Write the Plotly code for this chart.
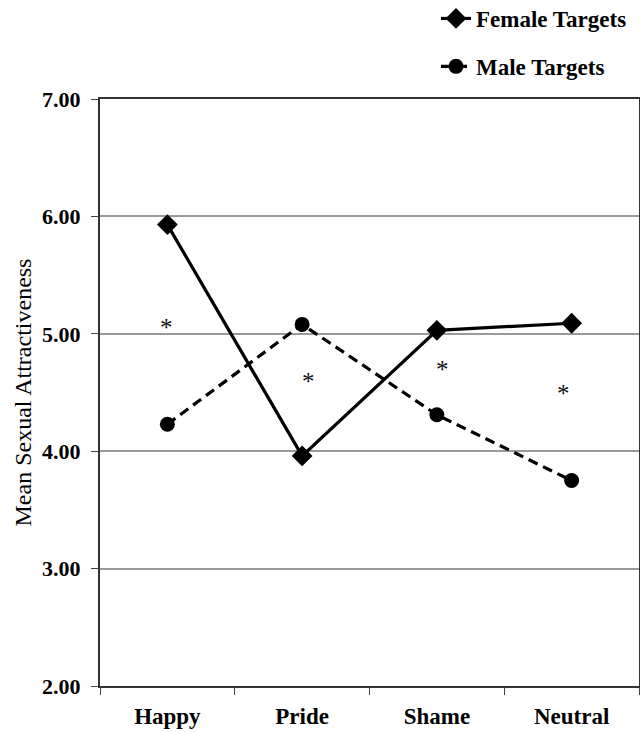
import plotly.graph_objects as go

categories = ["Happy", "Pride", "Shame", "Neutral"]
female_targets = [5.93, 3.96, 5.03, 5.09]
male_targets = [4.23, 5.08, 4.31, 3.75]
star_y = [5.08, 4.62, 4.72, 4.52]
star_dx = [-0.01, 0.05, 0.04, -0.06]
y_ticks = [2, 3, 4, 5, 6, 7]
y_tick_labels = ["2.00", "3.00", "4.00", "5.00", "6.00", "7.00"]

SERIF = "Liberation Serif, Times New Roman, DejaVu Serif, serif"

fig = go.Figure()
fig.add_trace(go.Scatter(
    x=categories, y=female_targets, name="Female Targets", mode="lines+markers",
    line=dict(color="black", width=3.2),
    marker=dict(symbol="diamond", size=16, color="black"),
    legendgroup="f",
))
fig.add_trace(go.Scatter(
    x=categories, y=male_targets, name="Male Targets", mode="lines+markers",
    line=dict(color="black", width=3.2, dash="10px,6px"),
    marker=dict(symbol="circle", size=15, color="black"),
    legendgroup="m",
))

for i, (c, y) in enumerate(zip(categories, star_y)):
    fig.add_annotation(x=i + star_dx[i], y=y, text="*", showarrow=False,
                       font=dict(family=SERIF, size=25, color="#111111"),
                       xref="x", yref="y", yshift=-3)

fig.update_layout(
    width=640, height=732,
    margin=dict(l=100, r=1, t=99, b=46, autoexpand=False),
    paper_bgcolor="white", plot_bgcolor="white",
    showlegend=True,
    legend=dict(x=(436 - 100) / 539, xanchor="left",
                y=1 + (99 + 3) / 587, yanchor="top",
                yref="paper", xref="paper",
                font=dict(family=SERIF, size=23, color="black", weight="bold"),
                tracegroupgap=15, traceorder="grouped",
                bgcolor="rgba(0,0,0,0)", itemwidth=30),
    font=dict(family=SERIF, color="black"),
)

fig.update_xaxes(
    type="category", categoryorder="array", categoryarray=categories,
    range=[-0.5, 3.5], showgrid=False, tickson="boundaries",
    ticks="outside", ticklen=7, tickcolor="#444", tickwidth=1,
    showline=True, linecolor="#333", linewidth=2, mirror=True,
    tickfont=dict(family=SERIF, size=23, color="black", weight="bold"),
    ticklabelstandoff=8,
    zeroline=False, automargin=False,
)
fig.update_yaxes(
    range=[2, 7], tickvals=y_ticks, ticktext=y_tick_labels,
    showgrid=True, gridcolor="#9a9a9a", gridwidth=1.6,
    ticks="outside", ticklen=7, tickcolor="#444", tickwidth=1,
    showline=True, linecolor="#333", linewidth=2, mirror=True,
    tickfont=dict(family=SERIF, size=22, color="black", weight="bold"),
    ticklabelstandoff=6,
    title=dict(text="Mean Sexual Attractiveness", standoff=4,
               font=dict(family=SERIF, size=24, color="black")),
    zeroline=False, automargin=False,
)

fig.write_html("out.html",
               config={"displayModeBar": False},
               post_script="document.body.style.margin='0px';"
                           "document.body.style.overflow='hidden';")
